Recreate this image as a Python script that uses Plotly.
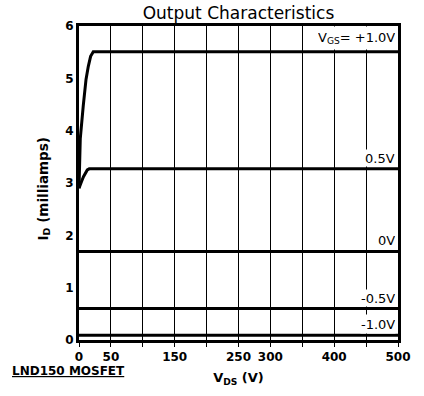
import plotly.graph_objects as go

# Data
vds_p10 = [0, 1, 2, 6.7, 11, 14.6, 18.2, 22.4, 500]
id_p10 = [2.9, 3.5, 3.85, 4.48, 4.98, 5.23, 5.42, 5.51, 5.51]
vds_p05 = [0, 2, 4, 7, 10, 13, 16, 500]
id_p05 = [2.9, 2.95, 3.03, 3.12, 3.2, 3.25, 3.27, 3.27]
vds_flat = [0, 500]
id_0 = [1.69, 1.69]
id_m05 = [0.6, 0.6]
id_m10 = [0.09, 0.09]

curve_labels = ["V<sub>GS</sub>= +1.0V", "0.5V", "0V", "-0.5V", "-1.0V"]
curve_levels = [5.51, 3.27, 1.69, 0.6, 0.09]
label_box_heights = [22, 16, 18, 16, 18]

x_tickvals = [0, 50, 150, 250, 300, 400, 500]
x_ticktext = ["0", "50", "150", "250", "300", "400", "500"]
x_grid_step = 50
y_tickvals = [0, 1, 2, 3, 4, 5, 6]

fig = go.Figure()
line = dict(color="black", width=3)
fig.add_trace(go.Scatter(x=vds_p10, y=id_p10, mode="lines", line=line))
fig.add_trace(go.Scatter(x=vds_p05, y=id_p05, mode="lines", line=line))
fig.add_trace(go.Scatter(x=vds_flat, y=id_0, mode="lines", line=line))
fig.add_trace(go.Scatter(x=vds_flat, y=id_m05, mode="lines", line=line))
fig.add_trace(go.Scatter(x=vds_flat, y=id_m10, mode="lines", line=line))

for txt, lvl, h in zip(curve_labels, curve_levels, label_box_heights):
    fig.add_annotation(x=500, y=lvl, xref="x", yref="y", text=txt,
                       showarrow=False, xanchor="right", yanchor="bottom",
                       xshift=-2, yshift=1.5, bgcolor="white", borderpad=0,
                       height=h, valign="middle",
                       font=dict(family="DejaVu Sans", size=13, color="black"))

fig.add_annotation(x=-69/319, y=-31/318, xref="paper", yref="paper",
                   text="<b><u>LND150 MOSFET</u></b>", showarrow=False,
                   xanchor="left", yanchor="middle",
                   font=dict(family="DejaVu Sans", size=12, color="black"))

# y-axis title as rotated annotation
fig.add_annotation(x=-35/319, y=(344-191.5)/318, xref="paper", yref="paper",
                   text="<b>I<sub>D</sub> (milliamps)</b>", showarrow=False,
                   textangle=-90, xanchor="center", yanchor="middle",
                   font=dict(family="DejaVu Sans", size=13.5, color="black"))

fig.update_layout(
    width=424, height=396,
    margin=dict(l=79, r=26, t=26, b=52),
    paper_bgcolor="white", plot_bgcolor="white",
    showlegend=False,
    title=dict(text="Output Characteristics", x=0.5, xref="paper",
               y=1 - 13/396, yref="container", yanchor="middle", xanchor="center",
               font=dict(family="DejaVu Sans", size=17, color="black")),
    font=dict(family="DejaVu Sans", color="black"),
)
fig.update_xaxes(range=[0, 500], tickvals=x_tickvals, ticktext=x_ticktext,
                 showgrid=True, gridcolor="black", gridwidth=1,
                 minor=dict(tick0=0, dtick=x_grid_step, showgrid=True, gridcolor="black",
                            gridwidth=1, ticks="outside", ticklen=4, tickcolor="black"),
                 showline=True, linecolor="black", linewidth=3, mirror=True,
                 ticks="outside", ticklen=4, tickcolor="black", tickwidth=1,
                 zeroline=False,
                 tickfont=dict(family="DejaVu Sans", size=12, color="black", weight="bold"),
                 title=dict(text="<b>V<sub>DS</sub> (V)</b>", standoff=10,
                            font=dict(family="DejaVu Sans", size=13, color="black")))
fig.update_yaxes(range=[0, 6], tickvals=y_tickvals, showgrid=False,
                 showline=True, linecolor="black", linewidth=3, mirror=True,
                 ticks="", zeroline=False,
                 tickfont=dict(family="DejaVu Sans", size=12, color="black", weight="bold"))

fig.write_html("out.html", config={"displayModeBar": False},
               post_script="document.body.style.margin='0';")
